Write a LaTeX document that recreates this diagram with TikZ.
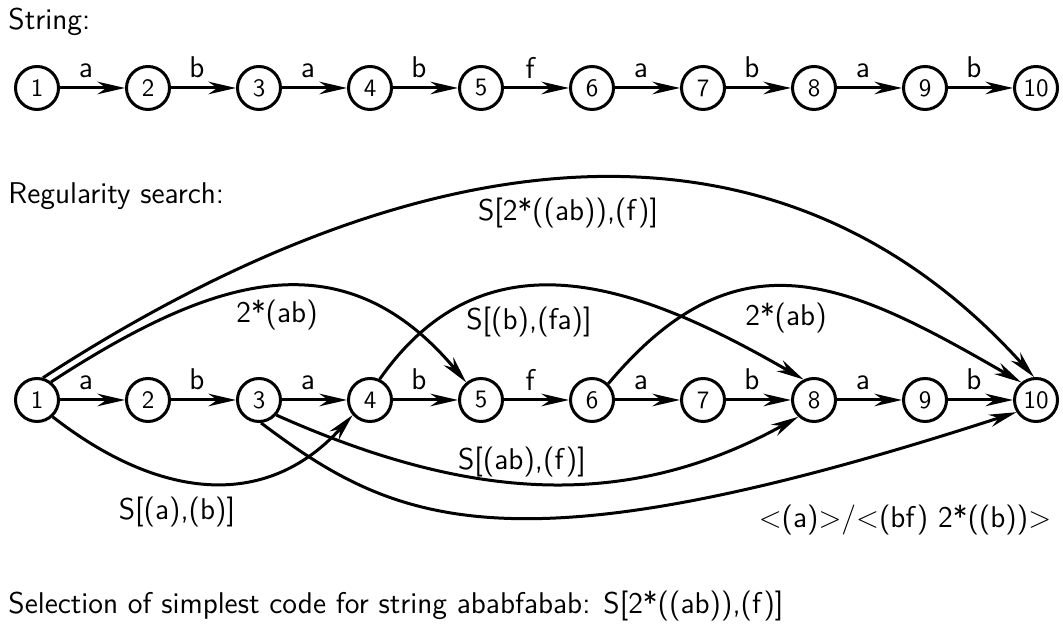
\documentclass[tikz,border=0pt]{standalone}
\usepackage{tikz}
\usetikzlibrary{arrows.meta}
\begin{document}
\begin{tikzpicture}[x=0.4pt,y=0.4pt,font=\sffamily\large,
  state/.style={circle,draw,line width=1.2pt,minimum size=17.2pt,inner sep=0pt,font=\sffamily},
  trans/.style={-{Stealth[length=11pt,width=5pt,inset=3.5pt]},line width=1.2pt},
  title/.style={anchor=west,inner sep=0pt}]
\useasboundingbox (0,0) rectangle (1063,624);

\node[title] (strtitle) at (8,602) {String:};
\foreach \i in {1,...,10}
  \node[state] (s\i) at ({37+111*(\i-1)},536) {\i};
\foreach \i/\c [count=\j from 2] in {1/a,2/b,3/a,4/b,5/f,6/a,7/b,8/a,9/b}
  \draw[trans] (s\i) -- node[above,pos=0.4] {\c} (s\j);

\node[title] (regtitle) at (8,428) {Regularity search:};
\foreach \i in {1,...,10}
  \node[state] (r\i) at ({37+111*(\i-1)},224) {\i};
\foreach \i/\c [count=\j from 2] in {1/a,2/b,3/a,4/b,5/f,6/a,7/b,8/a,9/b}
  \draw[trans] (r\i) -- node[above,pos=0.4] {\c} (r\j);

% regularities above the row
\draw[trans] (r1.75) to[out=33,in=132,looseness=1.06] (r10.95);
\draw[trans] (r1.52) to[out=33,in=130,looseness=1.19] (r5.130);
\draw[trans] (r4.65) to[out=55,in=150,looseness=1.13] (r8.117);
\draw[trans] (r6.45) to[out=50,in=150,looseness=1.25] (r10.130);
% regularities below the row
\draw[trans] (r1.-47) to[out=-38,in=-132,looseness=1.12] (r4.-139);
\draw[trans] (r3.-41) to[out=-24,in=-151,looseness=0.99] (r8.-133);
\draw[trans] (r3.-85) to[out=-37,in=-162,out looseness=0.57,in looseness=1.8] (r10.-148);

\node (l1) at (568,411) {S[2*((ab)),(f)]};
\node (l2) at (277,309) {2*(ab)};
\node (l3) at (529,302) {S[(b),(fa)]};
\node (l4) at (786,306) {2*(ab)};
\node (l5) at (177,112) {S[(a),(b)]};
\node (l6) at (522,162) {S[(ab),(f)]};
\node (l7) at (905,104) {$<$(a)$>$/$<$(bf) 2*((b))$>$};

\node[title] (seltitle) at (8,18) {Selection of simplest code for string ababfabab: S[2*((ab)),(f)]};
\end{tikzpicture}
\end{document}
